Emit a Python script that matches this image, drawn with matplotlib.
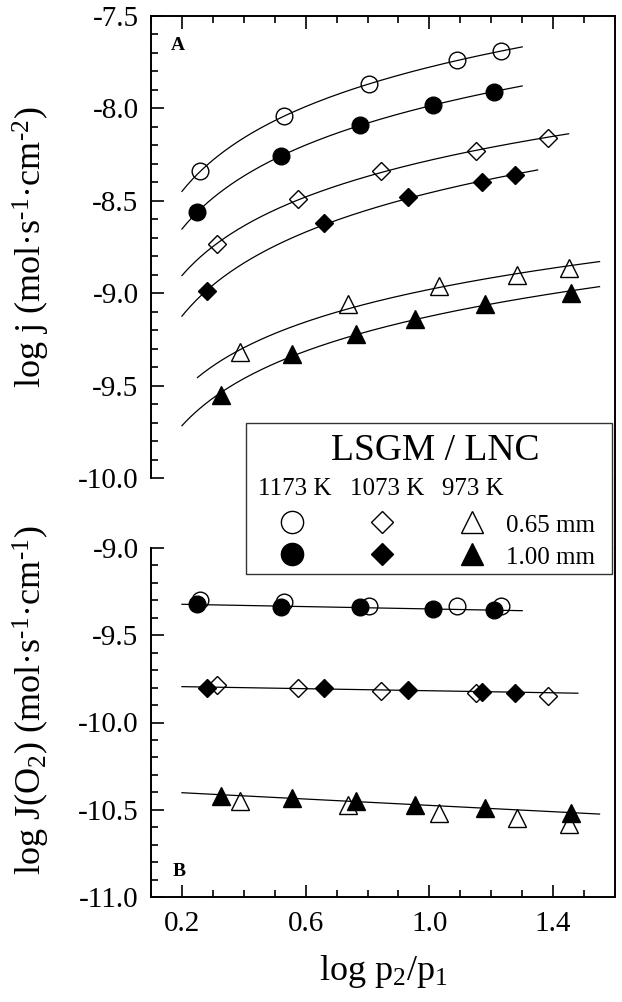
import numpy as np
import matplotlib
matplotlib.use("Agg")
import matplotlib.pyplot as plt
from matplotlib.patches import Rectangle
from matplotlib.ticker import MultipleLocator, FormatStrFormatter

plt.rcParams['font.family'] = ['Liberation Serif', 'DejaVu Serif']
plt.rcParams['mathtext.fontset'] = 'custom'
plt.rcParams['mathtext.rm'] = 'Liberation Serif'
plt.rcParams['mathtext.it'] = 'Liberation Serif:italic'
plt.rcParams['mathtext.bf'] = 'Liberation Serif:bold'
plt.rcParams['axes.unicode_minus'] = False

# ================================
# Data
# ================================
# x = log p2/p1 ; circles 1173 K, diamonds 1073 K, triangles 973 K
x_c065 = [0.26, 0.53, 0.805, 1.09, 1.23]
x_c100 = [0.25, 0.52, 0.776, 1.013, 1.21]
x_d065 = [0.314, 0.575, 0.845, 1.15, 1.382]
x_d100 = [0.28, 0.66, 0.931, 1.169, 1.277]
x_t065 = [0.388, 0.737, 1.03, 1.283, 1.452]
x_t100 = [0.325, 0.555, 0.762, 0.953, 1.181, 1.458]

# panel A: log j
j_c065 = [-8.34, -8.04, -7.87, -7.74, -7.69]
j_c100 = [-8.56, -8.26, -8.09, -7.98, -7.91]
j_d065 = [-8.735, -8.49, -8.34, -8.23, -8.16]
j_d100 = [-8.99, -8.62, -8.48, -8.40, -8.36]
j_t065 = [-9.32, -9.06, -8.96, -8.90, -8.865]
j_t100 = [-9.55, -9.33, -9.22, -9.14, -9.06, -9.00]

# panel B: log J(O2)
J_c065 = [-9.30, -9.31, -9.33, -9.33, -9.33]
J_c100 = [-9.32, -9.34, -9.34, -9.35, -9.355]
J_d065 = [-9.785, -9.80, -9.82, -9.833, -9.848]
J_d100 = [-9.80, -9.804, -9.814, -9.823, -9.829]
J_t065 = [-10.45, -10.47, -10.52, -10.55, -10.58]
J_t100 = [-10.42, -10.43, -10.45, -10.47, -10.49, -10.52]

# x-range of each fitted curve
rng_A = {"c065": (0.2, 1.30), "c100": (0.2, 1.30), "d065": (0.2, 1.45),
         "d100": (0.2, 1.35), "t065": (0.25, 1.55), "t100": (0.2, 1.55)}
rng_B = {"c": (0.2, 1.30), "d": (0.2, 1.48), "t": (0.2, 1.55)}

temps = ["1173 K", "1073 K", "973 K"]
thick = ["0.65 mm", "1.00 mm"]

# ================================
# Styles
# ================================
W, H = 622, 1002
MS = {"o": 12, "D": 9, "^": 13}
def mstyle(m, filled):
    return dict(marker=m, ms=MS[m], ls="none", mec="k", mew=1.0,
                mfc="k" if filled else "none")

series = [
    ("c065", "o", False, x_c065, j_c065, J_c065),
    ("c100", "o", True,  x_c100, j_c100, J_c100),
    ("d065", "D", False, x_d065, j_d065, J_d065),
    ("d100", "D", True,  x_d100, j_d100, J_d100),
    ("t065", "^", False, x_t065, j_t065, J_t065),
    ("t100", "^", True,  x_t100, j_t100, J_t100),
]

fig = plt.figure(figsize=(W / 100, H / 100), dpi=100)
axA = fig.add_axes([151 / W, 1 - 478 / H, 464 / W, 462 / H])
axB = fig.add_axes([151 / W, 1 - 897 / H, 464 / W, 349 / H])

# ---- A: log j with log-fits ----
for key, m, filled, x, j, _ in series:
    b, a = np.polyfit(np.log10(x), j, 1)
    xs = np.linspace(*rng_A[key], 200)
    axA.plot(xs, a + b * np.log10(xs), color="k", lw=0.9, zorder=2)
for key, m, filled, x, j, _ in series:
    axA.plot(x, j, zorder=3, **mstyle(m, filled))

# ---- B: log J(O2) with linear fits ----
for grp, x, J in [("c", x_c100, J_c100), ("d", x_d100, J_d100), ("t", x_t100, J_t100)]:
    b, a = np.polyfit(x, J, 1)
    xs = np.linspace(*rng_B[grp], 50)
    axB.plot(xs, a + b * xs, color="k", lw=0.9, zorder=2)
for key, m, filled, x, _, J in series:
    axB.plot(x, J, zorder=3, **mstyle(m, filled))

for ax in (axA, axB):
    ax.set_xlim(0.1, 1.6)
    ax.set_xticks([0.2, 0.6, 1.0, 1.4])
    ax.xaxis.set_minor_locator(MultipleLocator(0.1))
    ax.yaxis.set_major_locator(MultipleLocator(0.5))
    ax.yaxis.set_minor_locator(MultipleLocator(0.1))
    ax.xaxis.set_major_formatter(FormatStrFormatter("%.1f"))
    ax.yaxis.set_major_formatter(FormatStrFormatter("%.1f"))
    for s in ax.spines.values():
        s.set_linewidth(1.4)
    ax.tick_params(which="both", direction="in", width=1.2, labelsize=21, right=False)
    ax.tick_params(which="major", length=9)
    ax.tick_params(which="minor", length=5)
    ax.tick_params(axis="y", pad=9)
    ax.tick_params(axis="x", pad=10)

axA.set_ylim(-10.0, -7.5)
axA.spines["bottom"].set_visible(False)
axA.tick_params(axis="x", which="both", top=True, bottom=False, labelbottom=False)

axB.set_ylim(-11.0, -9.0)
axB.spines["top"].set_visible(False)
axB.tick_params(axis="x", which="both", top=False, bottom=True)

# ================================
# Overlay in pixel coordinates: labels, frame link, legend box
# ================================
ov = fig.add_axes([0, 0, 1, 1])
ov.set_xlim(0, W)
ov.set_ylim(H, 0)
ov.axis("off")
ov.set_zorder(5)

# right frame runs through the gap between the panels
ov.plot([615, 615], [477, 549], color="k", lw=1.4, solid_capstyle="butt")

ov.text(178, 45, "A", fontsize=14, fontweight="bold", ha="center", va="center")
ov.text(179, 871, "B", fontsize=14, fontweight="bold", ha="center", va="center")

ov.text(31, 247, r"log j (mol·s$^{\text{-1}}$·cm$^{\text{-2}}$)", fontsize=26,
        rotation=90, ha="center", va="center")
ov.text(31, 700, r"log J(O$_2$) (mol·s$^{\text{-1}}$·cm$^{\text{-1}}$)", fontsize=26,
        rotation=90, ha="center", va="center")
ov.text(383, 980, r"log p$_2$/p$_1$", fontsize=26, ha="center", va="baseline")

ov.add_patch(Rectangle((246, 423), 366, 151, facecolor="white",
                       edgecolor="#333333", lw=1.0, zorder=1))
ov.text(435, 460, "LSGM / LNC", fontsize=27, ha="center", va="baseline", zorder=2)
for t, cx in zip(temps, [295, 387, 473]):
    ov.text(cx, 495, t, fontsize=18, ha="center", va="baseline", zorder=2)
leg_ms = {"o": 16, "D": 11.5, "^": 16.5}
for row, (yy, filled) in enumerate([(522, False), (554, True)]):
    for m, cx in zip(["o", "D", "^"], [292, 382, 472]):
        st = mstyle(m, filled)
        st["ms"] = leg_ms[m]
        ov.plot([cx], [yy], zorder=3, **st)
    ov.text(506, yy + 10, thick[row], fontsize=18, ha="left", va="baseline", zorder=2)

fig.savefig("out.png", dpi=100)
